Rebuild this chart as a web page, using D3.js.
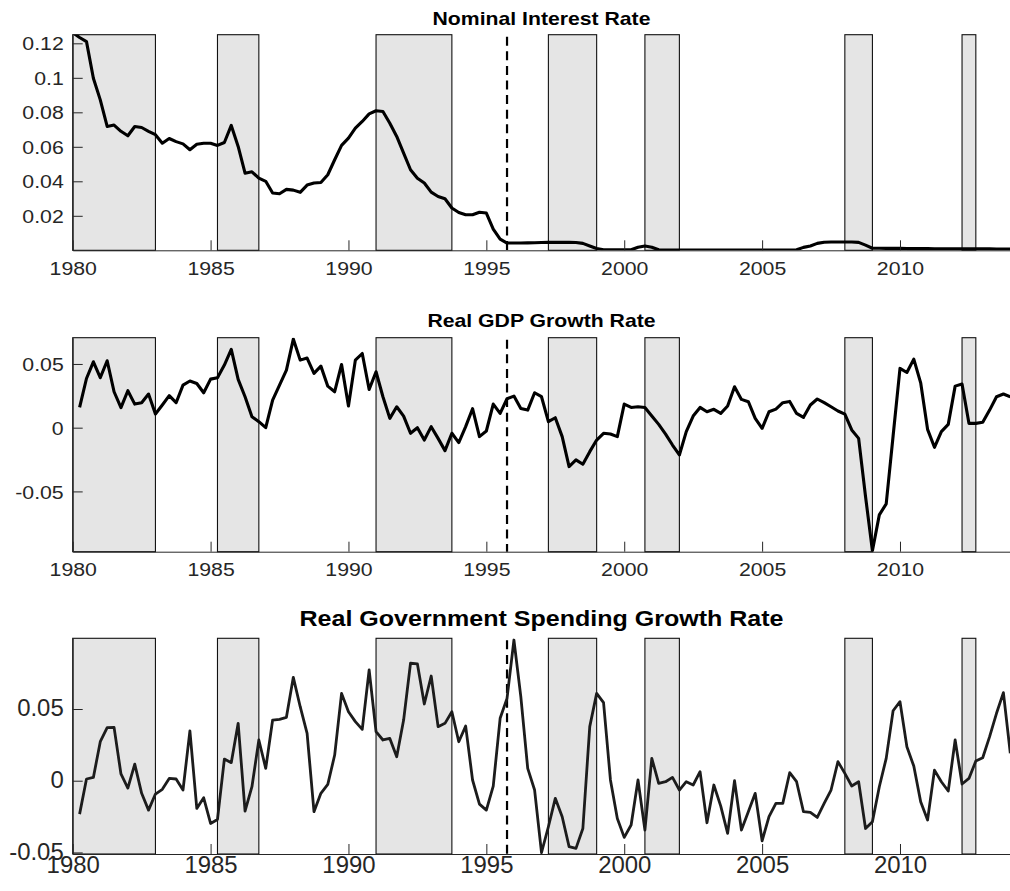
<!DOCTYPE html>
<html><head><meta charset="utf-8">
<script src="https://cdn.jsdelivr.net/npm/d3@7"></script>
<style>
body{margin:0;background:#fff;}
svg{display:block;}
text{font-family:"Liberation Sans",Arial,Helvetica,sans-serif;}
</style>
</head><body>
<svg id="chart" width="1010" height="891"></svg>
<script>
// ---------------- data ----------------
const quarterStep = 0.25;
const interestStart = 1980.0;
const growthStart = 1980.25;

const interestRate = [
  0.1262, 0.1234, 0.1210, 0.0998, 0.0872, 0.0718, 0.0726, 0.0690,
  0.0664, 0.0718, 0.0712, 0.0690, 0.0670, 0.0621, 0.0648, 0.0630,
  0.0617, 0.0583, 0.0615, 0.0621, 0.0621, 0.0608, 0.0625, 0.0724,
  0.0602, 0.0447, 0.0455, 0.0418, 0.0400, 0.0332, 0.0328, 0.0353,
  0.0349, 0.0336, 0.0378, 0.0390, 0.0393, 0.0438, 0.0525, 0.0608,
  0.0650, 0.0708, 0.0747, 0.0791, 0.0809, 0.0805, 0.0737, 0.0660,
  0.0563, 0.0467, 0.0418, 0.0390, 0.0337, 0.0312, 0.0299, 0.0245,
  0.0219, 0.0206, 0.0206, 0.0221, 0.0216, 0.0123, 0.0065, 0.0042,
  0.0042,
  0.0042, 0.0043, 0.0044, 0.0045, 0.0046, 0.0046, 0.0046, 0.0046, 0.0045,
  0.0040, 0.0025, 0.0010,
  0.0003, 0.0003, 0.0003, 0.0003, 0.0003,
  0.0018, 0.0025, 0.0018, 0.0003,
  0.0002, 0.0002, 0.0002, 0.0002, 0.0002, 0.0002, 0.0002, 0.0002, 0.0002, 0.0002,
  0.0002, 0.0002, 0.0002, 0.0002, 0.0002, 0.0002, 0.0002, 0.0002, 0.0002, 0.0003,
  0.0017, 0.0025, 0.0040, 0.0047, 0.0048, 0.0048, 0.0048, 0.0048, 0.0046, 0.0030, 0.0012,
  0.0012, 0.0011, 0.0011, 0.0011, 0.0010, 0.0010, 0.0010, 0.0010, 0.0009, 0.0009,
  0.0009, 0.0009, 0.0008, 0.0008, 0.0008, 0.0008, 0.0008, 0.0007, 0.0007, 0.0007
];

const gdpGrowth = [
  0.0159, 0.0386, 0.0517, 0.0392, 0.0525, 0.0282, 0.0157, 0.0290,
  0.0185, 0.0196, 0.0264, 0.0107, 0.0178, 0.0251, 0.0196, 0.0334,
  0.0366, 0.0347, 0.0274, 0.0381, 0.0392, 0.0491, 0.0614, 0.0379,
  0.0243, 0.0086, 0.0047, 0.0000, 0.0217, 0.0334, 0.0452, 0.0695,
  0.0530, 0.0546, 0.0426, 0.0483, 0.0326, 0.0282, 0.0496, 0.0170,
  0.0530, 0.0582, 0.0300, 0.0439,
  0.0243, 0.0073, 0.0164, 0.0091, -0.0044, 0.0000, -0.0097, 0.0008,
  -0.0084, -0.0180, -0.0044, -0.0117, 0.0008, 0.0149, -0.0070, -0.0026,
  0.0185, 0.0112, 0.0227, 0.0248, 0.0151, 0.0138, 0.0274, 0.0243,
  0.0047, 0.0078, -0.0070, -0.0305, -0.0253, -0.0287, -0.0188, -0.0097,
  -0.0044, -0.0050, -0.0070, 0.0185, 0.0159, 0.0164, 0.0159, 0.0091,
  0.0026, -0.0050, -0.0136, -0.0214,
  -0.0031, 0.0091, 0.0159, 0.0125, 0.0144, 0.0112, 0.0170, 0.0321,
  0.0222, 0.0204, 0.0073, -0.0005, 0.0125, 0.0146, 0.0196, 0.0206,
  0.0112, 0.0081, 0.0178, 0.0225, 0.0196, 0.0164, 0.0131, 0.0107,
  -0.0018, -0.0084, -0.0540, -0.0966, -0.0684, -0.0598, -0.0065, 0.0465,
  0.0433, 0.0538, 0.0352, -0.0013, -0.0154, -0.0031, 0.0026, 0.0326,
  0.0342, 0.0034, 0.0034, 0.0042, 0.0138, 0.0243, 0.0264, 0.0243
];

const govGrowth = [
  -0.0233, 0.0012, 0.0023, 0.0272, 0.0370, 0.0372, 0.0047, -0.0051,
  0.0116, -0.0088, -0.0205, -0.0093, -0.0060, 0.0016, 0.0012, -0.0065,
  0.0347, -0.0193, -0.0119, -0.0298, -0.0270, 0.0151, 0.0126, 0.0400,
  -0.0212, -0.0042, 0.0284, 0.0086, 0.0423, 0.0428, 0.0442, 0.0721,
  0.0516, 0.0330, -0.0216, -0.0088, -0.0026, 0.0179, 0.0609, 0.0481,
  0.0412, 0.0358, 0.0772, 0.0342,
  0.0284, 0.0295, 0.0167, 0.0423, 0.0819, 0.0814, 0.0535, 0.0730,
  0.0377, 0.0400, 0.0481, 0.0272, 0.0381, 0.0005, -0.0163, -0.0205,
  -0.0037, 0.0435, 0.0574, 0.0981, 0.0586, 0.0086, -0.0065, -0.0502,
  -0.0321, -0.0123, -0.0251, -0.0460, -0.0472, -0.0333, 0.0377, 0.0609,
  0.0544, 0.0005, -0.0263, -0.0395, -0.0309, 0.0005, -0.0344, 0.0156,
  -0.0019, -0.0007, 0.0023, -0.0065,
  -0.0007, -0.0030, 0.0063, -0.0293, -0.0030, -0.0177, -0.0367, 0.0000,
  -0.0344, -0.0216, -0.0088, -0.0419, -0.0251, -0.0158, -0.0158, 0.0056,
  -0.0007, -0.0216, -0.0221, -0.0256, -0.0158, -0.0065, 0.0133, 0.0051,
  -0.0037, -0.0007, -0.0333, -0.0286, -0.0042, 0.0156, 0.0488, 0.0551,
  0.0237, 0.0102, -0.0147, -0.0274, 0.0074, -0.0007, -0.0072, 0.0284,
  -0.0023, 0.0016, 0.0137, 0.0160, 0.0307, 0.0470, 0.0614, 0.0191
];

const recessions = [
  [1980.0, 1983.0], [1985.25, 1986.75], [1991.0, 1993.75], [1997.25, 1999.0],
  [2000.75, 2002.0], [2008.0, 2009.0], [2012.25, 2012.75]
];
const zlbDate = 1995.75;

const xDomain = [1980, 2014];
const xTicks = [1980, 1985, 1990, 1995, 2000, 2005, 2010];

const titles = ["Nominal Interest Rate", "Real GDP Growth Rate", "Real Government Spending Growth Rate"];
const yTicks1 = [0.02, 0.04, 0.06, 0.08, 0.1, 0.12];
const yLabels1 = ["0.02", "0.04", "0.06", "0.08", "0.1", "0.12"];
const yTicks2 = [-0.05, 0, 0.05];
const yLabels2 = ["-0.05", "0", "0.05"];
const yTicks3 = [-0.05, 0, 0.05];
const yLabels3 = ["-0.05", "0", "0.05"];
const yDomain1 = [0, 0.125];
const yDomain2 = [-0.0973, 0.0706];
const yDomain3 = [-0.0511, 0.0993];

// ---------------- layout ----------------
const svg = d3.select('#chart');
const x = d3.scaleLinear().domain(xDomain).range([72.7, 1010.3]);
const axisColor = '#262626';

const panels = [
  {values: interestRate, start: interestStart, top: 34.7, bottom: 250.3, domain: yDomain1,
   ticks: yTicks1, labels: yLabels1, title: titles[0], titleY: 25, titleSize: 18.6, titleSx: 1.14,
   tickSize: 18.5, tickSx: 1.15, xLabY: 25, yDy: '0.36em', lineColor: '#000', lineWidth: 3.1},
  {values: gdpGrowth, start: growthStart, top: 337.7, bottom: 551.7, domain: yDomain2,
   ticks: yTicks2, labels: yLabels2, title: titles[1], titleY: 326.7, titleSize: 18.6, titleSx: 1.14,
   tickSize: 18.5, tickSx: 1.15, xLabY: 24.5, yDy: '0.36em', lineColor: '#000', lineWidth: 3.1},
  {values: govGrowth, start: growthStart, top: 638.3, bottom: 854, domain: yDomain3,
   ticks: yTicks3, labels: yLabels3, title: titles[2], titleY: 625.7, titleSize: 21.5, titleSx: 1.165,
   tickSize: 23, tickSx: 1.04, xLabY: 18.7, yDy: '0.29em', lineColor: '#1c1c1c', lineWidth: 2.8}
];

const defs = svg.append('defs');

panels.forEach((p, i) => {
  const y = d3.scaleLinear().domain(p.domain).range([p.bottom, p.top]);
  const g = svg.append('g');
  const x0 = x.range()[0], x1 = x.range()[1];

  defs.append('clipPath').attr('id', 'clip' + i)
    .append('rect').attr('x', x0).attr('y', p.top).attr('width', x1 - x0).attr('height', p.bottom - p.top);

  // recession bands
  g.selectAll('rect.band').data(recessions).join('rect')
    .attr('class', 'band')
    .attr('x', d => x(d[0])).attr('y', p.top)
    .attr('width', d => x(d[1]) - x(d[0])).attr('height', p.bottom - p.top)
    .attr('fill', '#e5e5e5').attr('stroke', '#111').attr('stroke-width', 1.1);

  // zero lower bound dashed line
  g.append('line')
    .attr('x1', x(zlbDate)).attr('x2', x(zlbDate))
    .attr('y1', p.top + 2).attr('y2', p.bottom)
    .attr('stroke', '#000').attr('stroke-width', 2.2).attr('stroke-dasharray', '9,5.6');

  // series line
  const pts = p.values.map((v, k) => [p.start + k * quarterStep, v]);
  g.append('path').datum(pts)
    .attr('clip-path', `url(#clip${i})`)
    .attr('fill', 'none').attr('stroke', p.lineColor).attr('stroke-width', p.lineWidth)
    .attr('stroke-linejoin', 'round').attr('stroke-linecap', 'butt')
    .attr('d', d3.line().x(d => x(d[0])).y(d => y(d[1])));

  // x axis
  const xa = g.append('g').attr('transform', `translate(0,${p.bottom})`)
    .call(d3.axisBottom(x).tickValues(xTicks).tickFormat(d3.format('d'))
      .tickSizeInner(-10).tickSizeOuter(0));
  xa.select('.domain').attr('stroke', axisColor);
  xa.selectAll('.tick line').attr('stroke', axisColor);
  xa.selectAll('.tick text')
    .attr('y', p.xLabY).attr('dy', 0)
    .attr('fill', axisColor).attr('font-size', p.tickSize)
    .attr('transform', `scale(${p.tickSx},1)`);

  // y axis
  const ya = g.append('g').attr('transform', `translate(${x0},0)`)
    .call(d3.axisLeft(y).tickValues(p.ticks).tickFormat((d, k) => p.labels[k])
      .tickSizeInner(-10).tickSizeOuter(0));
  ya.select('.domain').attr('stroke', axisColor);
  ya.selectAll('.tick line').attr('stroke', axisColor);
  ya.selectAll('.tick text')
    .attr('x', -9 / p.tickSx).attr('dy', p.yDy)
    .attr('fill', axisColor).attr('font-size', p.tickSize)
    .attr('transform', `scale(${p.tickSx},1)`);

  // title
  const cx = (x0 + x1) / 2;
  svg.append('text')
    .attr('transform', `translate(${cx},${p.titleY}) scale(${p.titleSx},1)`)
    .attr('text-anchor', 'middle').attr('font-weight', 'bold')
    .attr('font-size', p.titleSize).attr('fill', '#000')
    .text(p.title);
});
</script>
</body></html>
